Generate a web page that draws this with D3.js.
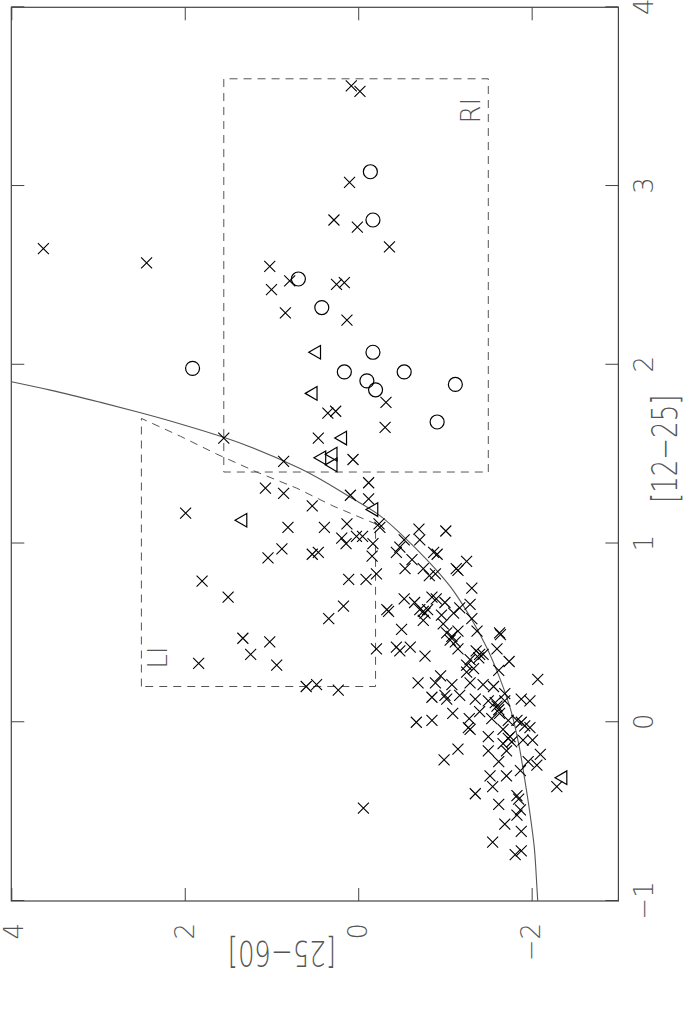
<!DOCTYPE html>
<html><head><meta charset="utf-8">
<script src="https://cdn.jsdelivr.net/npm/d3@7"></script>
<style>
html,body{margin:0;padding:0;background:#fff;}
svg{display:block;}
text{font-family:"DejaVu Sans",sans-serif;font-weight:200;fill:#555;}
</style></head><body>
<svg id="chart" width="686" height="1013"></svg>
<script>
// [12-25] values (u) and [25-60] values (v)
const xTicks = [-1, 0, 1, 2, 3, 4];
const yTicks = [-2, 0, 2, 4];
const xTitle = "[12\u221225]";
const yTitle = "[25\u221260]";

const crossPts = [
 [2.65,3.63],[2.57,2.44],
 [3.56,0.08],[3.53,-0.02],[3.02,0.10],[2.81,0.28],[2.77,0.01],[2.66,-0.36],[2.55,1.02],[2.47,0.79],[2.42,1.00],[2.45,0.25],[2.46,0.16],[2.29,0.84],[2.25,0.13],
 [1.79,-0.32],[1.73,0.35],[1.74,0.26],[1.65,-0.31],[1.59,1.55],[1.59,0.46],[1.46,0.86],[1.47,0.06],[1.34,-0.12],[1.31,1.07],[1.28,0.86],[1.27,0.09],[1.25,-0.12],[1.21,0.53],[1.11,-0.24],[1.09,-0.25],[1.09,0.81],[1.09,0.39],[1.11,0.13],[1.08,-0.70],[1.07,-1.01],[1.03,0.19],[1.04,0.02],[1.04,-0.05],[1.00,-0.17],[1.02,-0.53],[1.02,-0.71],[1.00,0.14],[0.98,-0.48],[0.97,0.88],[0.92,1.04],[0.94,0.53],[0.95,0.46],[0.93,-0.16],[0.95,-0.44],[0.95,-0.87],[0.94,-0.91],[0.90,-1.25],
 [1.17,1.99],[0.79,1.80],[0.80,0.11],[0.80,-0.09],[0.83,-0.21],[0.70,1.50],[0.65,0.17],[0.58,0.34],[0.63,-0.33],[0.62,-0.35],[0.47,1.33],[0.45,1.02],[0.38,1.24],[0.33,1.84],[0.32,0.94],[0.41,-0.21],[0.20,0.60],[0.21,0.48],[0.18,0.23],
 [0.91,-0.62],[0.86,-1.13],[0.85,-1.15],[0.86,-0.54],[0.86,-0.75],[0.82,-0.82],[0.83,-0.89],[0.75,-1.31],[0.69,-0.53],[0.70,-0.85],[0.69,-0.90],[0.67,-0.65],[0.63,-0.71],[0.62,-0.75],[0.61,-0.77],[0.63,-0.80],[0.67,-1.00],[0.66,-1.29],[0.64,-1.17],[0.61,-1.10],[0.57,-0.75],[0.60,-0.96],[0.58,-1.31],[0.55,-0.98],[0.52,-0.50],[0.51,-1.15],[0.50,-1.02],[0.48,-1.08],[0.46,-1.06],[0.51,-1.37],[0.50,-1.63],[0.49,-1.64],[0.45,-1.12],[0.41,-1.15],[0.42,-0.44],[0.40,-0.48],[0.42,-0.60],[0.37,-0.77],[0.40,-1.36],[0.38,-1.40],[0.38,-1.44],[0.36,-1.39],[0.41,-1.60],[0.35,-1.29],[0.34,-1.74],[0.32,-1.25],[0.30,-1.33],[0.29,-1.62],[0.28,-1.25],[0.24,-2.07],[0.26,-0.95],
 [0.22,-0.69],[0.22,-0.89],[0.21,-1.08],[0.22,-1.29],[0.21,-1.44],[0.20,-1.56],[0.14,-0.85],[0.15,-1.00],[0.13,-1.02],[0.15,-1.17],[0.13,-1.35],[0.12,-1.50],[0.11,-1.58],[0.09,-1.60],[0.07,-1.62],[0.16,-1.69],[0.12,-1.69],[0.13,-1.88],[0.12,-1.98],[0.00,-0.67],[0.01,-0.85],[0.05,-1.09],[0.02,-1.28],[-0.03,-1.27],[-0.04,-1.29],[0.06,-1.40],[0.02,-1.54],[0.05,-1.63],[0.01,-1.73],[0.01,-1.83],[0.00,-1.88],[-0.02,-1.92],[-0.03,-1.98],[-0.08,-1.50],[-0.04,-1.67],[-0.09,-1.73],[-0.11,-1.77],[-0.08,-1.75],[-0.12,-1.67],[-0.10,-1.90],[-0.10,-2.01],[-0.15,-1.15],[-0.21,-0.99],[-0.16,-1.50],[-0.16,-1.71],[-0.22,-1.62],[-0.27,-1.87],[-0.22,-1.96],[-0.24,-2.06],[-0.18,-2.10],[-0.30,-1.52],[-0.30,-1.71],[-0.36,-1.55],[-0.40,-1.35],[-0.41,-1.83],[-0.43,-1.85],[-0.46,-1.62],[-0.49,-1.87],[-0.52,-1.83],[-0.57,-1.69],[-0.61,-1.88],[-0.67,-1.55],[-0.74,-1.81],[-0.72,-1.88],[-0.36,-2.29],
 [-0.48,-0.06]
];
const circlePts = [
 [1.98,1.91],[3.08,-0.14],[2.81,-0.17],[2.48,0.69],[2.32,0.42],[2.07,-0.17],[1.96,0.16],[1.96,-0.53],[1.91,-0.10],[1.86,-0.20],[1.89,-1.12],[1.68,-0.91]
];
const trianglePts = [
 [2.07,0.48],[1.84,0.52],[1.59,0.18],[1.50,0.29],[1.48,0.42],[1.44,0.29],[1.19,-0.18],[1.13,1.33],[-0.31,-2.36]
];
const curvePts = [
 [-1.00,-2.07],[-0.92,-2.06],[-0.70,-2.03],[-0.51,-1.98],[-0.32,-1.92],[-0.12,-1.85],[0.05,-1.77],[0.25,-1.63],[0.42,-1.48],[0.59,-1.29],[0.76,-1.06],[0.91,-0.79],[1.04,-0.52],[1.17,-0.21],[1.25,0.06],[1.42,0.67],[1.596,1.56],[1.665,2.02],[1.733,2.52],[1.791,2.98],[1.858,3.55],[1.905,4.00]
];
const liBorder = [
 [0.20,2.50],[1.70,2.50],[1.60,2.05],[1.50,1.63],[1.40,1.17],[1.31,0.71],[1.21,0.29],[1.11,-0.20],[0.20,-0.20],[0.20,2.50]
];
const riU = [1.40, 3.60];
const riV = [-1.50, 1.55];
const regionLabels = [["RI", 3.35, -1.40], ["LI", 0.30, 2.20]];

const W = 893.7, H = 607.1;
const svg = d3.select("#chart");
const g = svg.append("g").attr("transform", "translate(11.3,901) rotate(-90)");
const x = d3.scaleLinear().domain([-1, 4]).range([0, W]);
const y = d3.scaleLinear().domain([-3, 4]).range([H, 0]);

function styleAxis(sel) {
  sel.attr("font-size", 26).attr("color", "#444");
  sel.select(".domain").remove();
  sel.selectAll(".tick line").attr("stroke-width", 1);
}
g.append("g").attr("transform", `translate(0,${H})`)
  .call(d3.axisBottom(x).tickValues(xTicks).tickSizeInner(-13).tickSizeOuter(0).tickPadding(16).tickFormat(d3.format("d")))
  .call(styleAxis);
g.append("g")
  .call(d3.axisTop(x).tickValues(xTicks).tickSizeInner(-13).tickSizeOuter(0).tickFormat(""))
  .call(styleAxis);
const yAx = g.append("g")
  .call(d3.axisLeft(y).tickValues(yTicks).tickSizeInner(-13).tickSizeOuter(0).tickPadding(22).tickFormat(d3.format("d")))
  .call(styleAxis);
// keep the corner label inside the page
yAx.selectAll(".tick text").filter(d => d === 4).attr("dy", "0.42em");
g.append("g").attr("transform", `translate(${W},0)`)
  .call(d3.axisRight(y).tickValues(yTicks).tickSizeInner(-13).tickSizeOuter(0).tickFormat(""))
  .call(styleAxis);

g.append("rect").attr("x", 0).attr("y", 0).attr("width", W).attr("height", H)
  .attr("fill", "none").attr("stroke", "#444").attr("stroke-width", 1.2);

// titles
g.append("text").attr("text-anchor", "middle")
  .attr("transform", `translate(${x(1.53)},${H + 59}) scale(1,1.38)`)
  .attr("font-size", 26).text(xTitle);
g.append("text").attr("text-anchor", "middle")
  .attr("transform", `translate(-40,${y(0.88)}) rotate(-90) scale(1,1.38)`)
  .attr("font-size", 26).text(yTitle);

// region boxes
const line = d3.line().x(d => x(d[0])).y(d => y(d[1]));
g.append("path")
  .attr("d", line([[riU[0], riV[0]], [riU[1], riV[0]], [riU[1], riV[1]], [riU[0], riV[1]], [riU[0], riV[0]]]))
  .attr("fill", "none").attr("stroke", "#555").attr("stroke-width", 1).attr("stroke-dasharray", "8,6");
g.append("path").attr("d", line(liBorder))
  .attr("fill", "none").attr("stroke", "#555").attr("stroke-width", 1).attr("stroke-dasharray", "8,6");

// model curve
g.append("path").attr("d", d3.line().x(d => x(d[0])).y(d => y(d[1])).curve(d3.curveMonotoneX)(curvePts))
  .attr("fill", "none").attr("stroke", "#555").attr("stroke-width", 1.1);

// region labels
g.selectAll("text.region").data(regionLabels).join("text").attr("class", "region")
  .attr("x", d => x(d[1])).attr("y", d => y(d[2])).attr("font-size", 26).text(d => d[0]);

// markers
const s = 5.5;
g.append("g").selectAll("path").data(crossPts).join("path")
  .attr("transform", d => `translate(${x(d[0])},${y(d[1])})`)
  .attr("d", `M${-s},${-s}L${s},${s}M${-s},${s}L${s},${-s}`)
  .attr("stroke", "#000").attr("stroke-width", 1.1).attr("fill", "none");
g.append("g").selectAll("circle").data(circlePts).join("circle")
  .attr("cx", d => x(d[0])).attr("cy", d => y(d[1])).attr("r", 7)
  .attr("stroke", "#000").attr("stroke-width", 1.2).attr("fill", "none");
g.append("g").selectAll("path").data(trianglePts).join("path")
  .attr("transform", d => `translate(${x(d[0])},${y(d[1])})`)
  .attr("d", d3.symbol(d3.symbolTriangle, 80)())
  .attr("stroke", "#000").attr("stroke-width", 1.2).attr("fill", "none");
</script>
</body></html>
